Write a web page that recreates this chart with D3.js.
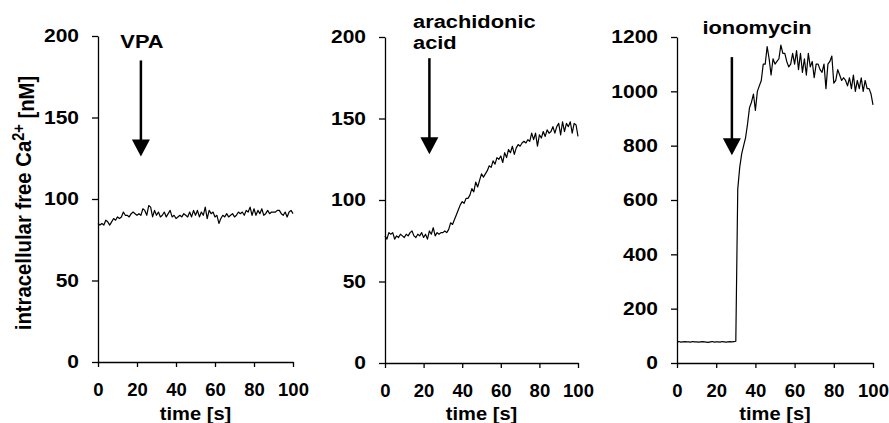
<!DOCTYPE html>
<html>
<head>
<meta charset="utf-8">
<script src="https://cdn.jsdelivr.net/npm/d3@7"></script>
<style>
body { margin: 0; background: white; }
svg { display: block; }
text { font-family: "Liberation Sans", Arial, Helvetica, sans-serif; font-weight: bold; fill: black; }
</style>
</head>
<body>
<svg></svg>
<script>
// one sample per second, t = 0..100 s (index = time)
var vpaValues = [
    85, 84, 85, 84, 87, 86, 84, 86, 88, 87,
    89, 88, 89, 92, 90, 90, 89, 91, 92, 91,
    90, 91, 90, 94, 93, 90, 96, 95, 89, 93,
    90, 92, 89, 90, 92, 89, 91, 93, 89, 90,
    88, 89, 90, 89, 91, 90, 89, 92, 89, 93,
    90, 93, 89, 92, 90, 95, 88, 93, 91, 92,
    89, 90, 85, 88, 90, 89, 91, 89, 90, 91,
    89, 90, 92, 91, 92, 90, 93, 92, 95, 90,
    94, 90, 93, 91, 94, 90, 91, 93, 91, 92,
    92, 92, 93, 93, 91, 90, 92, 89, 92, 93,
    91
];

var aaValues = [
    78, 76, 80, 79, 80, 76, 78, 77, 79, 78,
    77, 79, 78, 80, 81, 78, 77, 79, 78, 80,
    77, 79, 76, 81, 79, 83, 78, 80, 79, 80,
    80, 81, 80, 82, 86, 85, 88, 91, 94, 97,
    99, 98, 101, 101, 103, 107, 105, 111, 108, 112,
    116, 114, 116, 118, 121, 120, 124, 122, 126, 125,
    127, 123, 129, 126, 131, 129, 133, 128, 132, 134,
    133, 135, 136, 135, 137, 136, 141, 137, 141, 133,
    140, 138, 142, 139, 143, 141, 142, 145, 141, 145,
    147, 140, 148, 142, 147, 145, 148, 141, 147, 146,
    139
];

var ionoValues = [
    78, 79, 77, 78, 79, 78, 78, 77, 79, 78,
    78, 77, 78, 79, 78, 77, 76, 78, 79, 77,
    78, 78, 77, 79, 78, 77, 78, 79, 78, 79,
    80, 640, 720, 770, 800, 830, 880, 940, 960, 990,
    930, 1000, 1020, 1040, 1100, 1100, 1165, 1120, 1060, 1120,
    1100, 1110, 1120, 1170, 1140, 1140, 1110, 1090, 1100, 1140,
    1100, 1150, 1080, 1140, 1070, 1120, 1060, 1140, 1090, 1110,
    1050, 1100, 1100, 1080, 1070, 1100, 1010, 1100, 1110, 1130,
    1030, 1040, 1080, 1060, 1040, 1050, 1040, 1020, 1050, 1010,
    1060, 1000, 1040, 1010, 1050, 1000, 1040, 1010, 1010, 990,
    950
];

var timeTicks = [0, 20, 40, 60, 80, 100];
var smallTicks = [0, 50, 100, 150, 200];
var bigTicks = [0, 200, 400, 600, 800, 1000, 1200];

var stimulusLabels = [["VPA"], ["arachidonic", "acid"], ["ionomycin"]];
// arrow: time of addition, arrow top and tip in y units
var arrowTime = [22, 23, 28];
var arrowTop = [185, 187, 1126];
var arrowTip = [126, 128, 765];

var stretch = 1.15;

var panels = [
    {values: vpaValues, yMax: 200, yTicks: smallTicks,
     box: {left: 98, right: 293, top: 36, bottom: 362},
     label: {x: 142, y: 48, anchor: "middle"}},
    {values: aaValues, yMax: 200, yTicks: smallTicks,
     box: {left: 385, right: 578, top: 37, bottom: 363},
     label: {x: 413, y: 28, anchor: "start"}},
    {values: ionoValues, yMax: 1200, yTicks: bigTicks,
     box: {left: 677, right: 873, top: 37, bottom: 363},
     label: {x: 757, y: 34, anchor: "middle"}}
];

var svg = d3.select("svg")
    .attr("width", 889)
    .attr("height", 423);

var drawPanel = function(p, k)
{
    var xScale = d3.scaleLinear()
                    .domain([0, 100])
                    .range([p.box.left, p.box.right]);

    var yScale = d3.scaleLinear()
                    .domain([0, p.yMax])
                    .range([p.box.bottom, p.box.top]);

    var xAxis = d3.axisBottom(xScale)
        .tickValues(timeTicks)
        .tickFormat(d3.format("d"))
        .tickSize(5)
        .tickSizeOuter(0)
        .tickPadding(16);

    var yAxis = d3.axisLeft(yScale)
        .tickValues(p.yTicks)
        .tickFormat(d3.format("d"))
        .tickSize(6)
        .tickSizeOuter(0)
        .tickPadding(13);

    var g = svg.append("g").attr("class", "panel" + k);

    var gx = g.append("g")
        .attr("transform", "translate(0," + p.box.bottom + ")")
        .call(xAxis);

    var gy = g.append("g")
        .attr("transform", "translate(" + p.box.left + ",0)")
        .call(yAxis);

    [gx, gy].forEach(function(a)
    {
        a.select(".domain").attr("stroke", "black").attr("stroke-width", 1.3);
        a.selectAll(".tick line").attr("stroke", "black").attr("stroke-width", 1.3);
        a.selectAll("text")
            .attr("font-family", null)
            .attr("font-size", null);
    });

    gx.selectAll("text").style("font-size", "18.5px");
    gy.selectAll("text")
        .style("font-size", "17.8px")
        .attr("x", -19 / 1.18)
        .attr("transform", "scale(1.18,1)");

    // axis title
    g.append("text")
        .attr("text-anchor", "middle")
        .attr("transform", "translate(" + ((p.box.left + p.box.right) / 2) + ",420) scale(1.06,1)")
        .style("font-size", "19px")
        .text("time [s]");

    // trace
    var lineGenerator = d3.line()
        .x(function(num, index){return xScale(index)})
        .y(function(num){return yScale(num)});

    g.append("path")
        .datum(p.values)
        .attr("fill", "none")
        .attr("stroke", "black")
        .attr("stroke-width", 1.2)
        .attr("stroke-linejoin", "round")
        .attr("d", lineGenerator);

    // stimulus arrow
    var ax = xScale(arrowTime[k]);
    var tipY = yScale(arrowTip[k]);
    var headH = 17;
    g.append("line")
        .attr("x1", ax).attr("x2", ax)
        .attr("y1", yScale(arrowTop[k]))
        .attr("y2", tipY - headH + 1)
        .attr("stroke", "black")
        .attr("stroke-width", 2.5);
    g.append("path")
        .attr("d", "M" + (ax - 9) + "," + (tipY - headH) + "L" + (ax + 9) + "," + (tipY - headH) + "L" + ax + "," + tipY + "Z")
        .attr("fill", "black");

    // stimulus label
    stimulusLabels[k].forEach(function(line, i)
    {
        g.append("text")
            .attr("text-anchor", p.label.anchor)
            .attr("transform", "translate(" + p.label.x + "," + (p.label.y + i * 21) + ") scale(" + stretch + ",1)")
            .style("font-size", "19px")
            .text(line);
    });
}

panels.forEach(drawPanel);

// y axis title (left panel only)
var yTitle = svg.append("text")
    .attr("text-anchor", "middle")
    .attr("transform", "translate(31,203) rotate(-90) scale(1,1.1)")
    .style("font-size", "20.3px");
yTitle.append("tspan").text("intracellular free Ca");
yTitle.append("tspan")
    .attr("dy", "-0.42em")
    .style("font-size", "14.5px")
    .text("2+");
yTitle.append("tspan")
    .attr("dy", "0.42em")
    .text(" [nM]");
</script>
</body>
</html>
